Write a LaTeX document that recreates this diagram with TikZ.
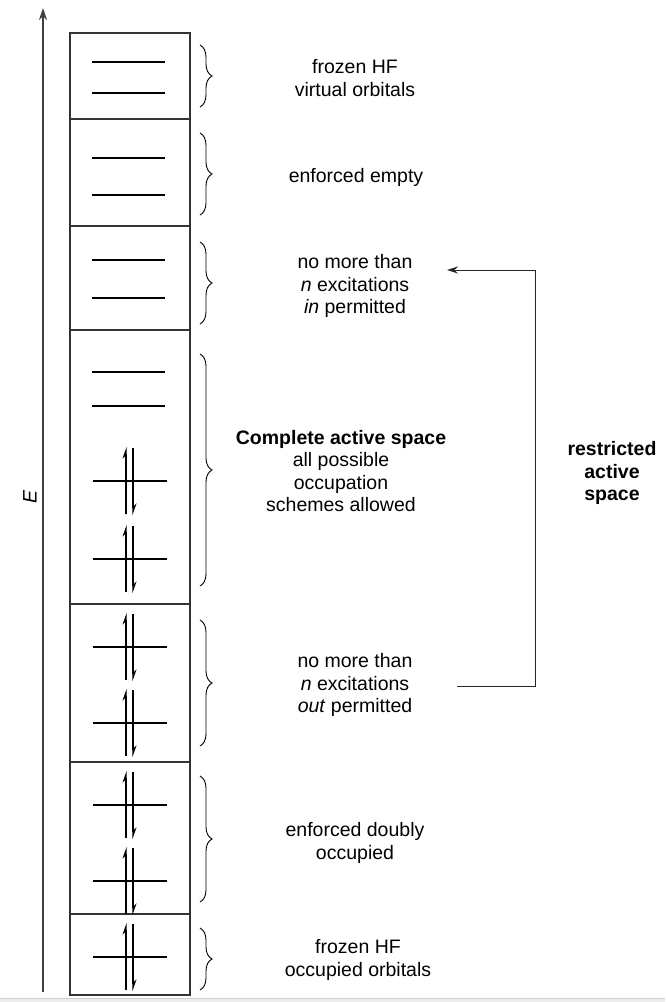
\documentclass[tikz,border=0pt]{standalone}
\usepackage{fontspec}
\setmainfont{Liberation Sans}
\usetikzlibrary{arrows.meta,decorations.pathreplacing}
\begin{document}
\begin{tikzpicture}[x=1pt,y=-1pt,
  frame/.style={draw=black!80,line width=1.2pt},
  orb/.style={draw=black,line width=1.1pt},
  spin/.style={draw=black,line width=1.1pt,-{Stealth[harpoon,length=10pt,width=7pt]}},
  brc/.style={draw=black,decorate,decoration={brace,amplitude=12pt},line width=0.9pt},
  lbl/.style={align=center,font=\fontsize{19.5}{22.2}\selectfont,inner sep=0pt}]
\useasboundingbox (0,0) rectangle (665,1002);
\fill[black!7] (0,998) rectangle (665,1002);
\draw[black!18,line width=0.5pt] (0,998) -- (665,998);
% energy axis
\coordinate (axb) at (43,992);
\coordinate (axt) at (43,8);
\draw[draw=black!75,line width=1.3pt,-{Stealth[length=12pt,width=8pt]}] (axb) -- (axt);
\node[rotate=90,lbl,font=\fontsize{19.5}{22.2}\selectfont\itshape] (E) at (30,497) {E};
% boxes
\draw[frame] (70,33) rectangle (190,995);
\foreach \y in {119,226,330,604,762,914} \draw[frame] (70,\y) -- (190,\y);
% empty orbitals
\foreach \y in {62,93,158,195,260,298,372,406} \draw[orb] (92,\y) -- (165,\y);
% doubly occupied orbitals
\foreach \y in {481,559,647,723,805,881,957} {
  \draw[orb] (93,\y) -- (167,\y);
  \draw[spin] (126,\y+33) -- (126,\y-34);
  \draw[spin] (133,\y-33) -- (133,\y+34);
}
% braces
\foreach \a/\b in {45/107,133/215,242/324,354/586,620/746,776/902,928/990}
  \draw[brc] (200,\a) -- (200,\b);
% labels
\node[lbl] (t1) at (355,78) {frozen HF\\virtual orbitals};
\node[lbl] (t2) at (356,177) {enforced empty};
\node[lbl] (t3) at (355,286) {no more than\\\textit{n} excitations\\\textit{in} permitted};
\node[lbl] (t4) at (341,471) {\textbf{Complete active space}\\all possible\\occupation\\schemes allowed};
\node[lbl] (t5) at (355,685) {no more than\\\textit{n} excitations\\\textit{out} permitted};
\node[lbl] (t6) at (355,843) {enforced doubly\\occupied};
\node[lbl] (t7) at (358,960) {frozen HF\\occupied orbitals};
\node[lbl,font=\fontsize{19.5}{22.6}\selectfont\bfseries] (ras) at (612,473) {restricted\\active\\space};
% RAS connector
\coordinate (rs) at (457,686);
\coordinate (re) at (447,270);
\draw[draw=black!85,line width=1pt,-{Stealth[length=11pt,width=7pt]}] (rs) -- (535,686) |- (re);
\end{tikzpicture}
\end{document}
